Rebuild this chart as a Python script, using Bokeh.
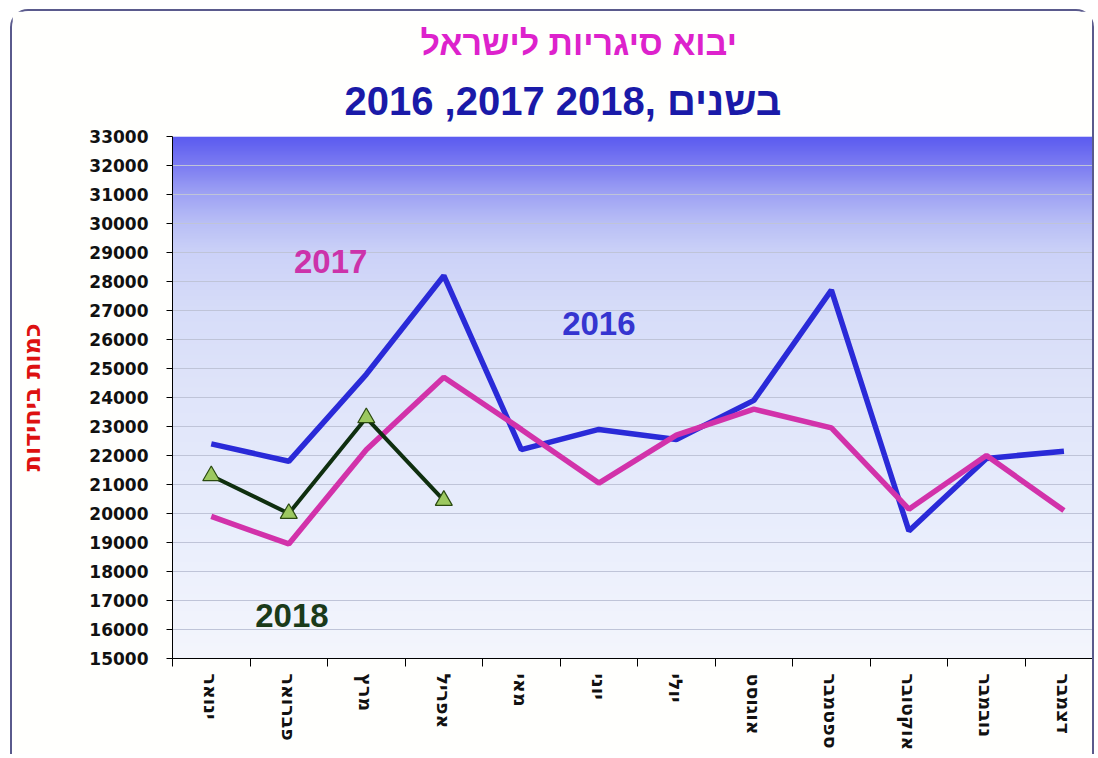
import numpy as np
from bokeh.plotting import figure
from bokeh.models import FixedTicker, Label, Range1d, Title
from bokeh.embed import file_html
from bokeh.resources import INLINE

# ---------------- data ----------------
months = ["ינואר", "פברואר", "מרץ", "אפריל", "מאי", "יוני",
          "יולי", "אוגוסט", "ספטמבר", "אוקטובר", "נובמבר", "דצמבר"]
y2016 = [22400, 21800, 24800, 28200, 22200, 22900, 22550, 23900, 27700, 19400, 21900, 22150]
y2017 = [19900, 18950, 22200, 24700, 22900, 21050, 22700, 23600, 22950, 20150, 22000, 20100]
y2018 = [21300, 20000, 23300, 20450]
y_ticks = list(range(15000, 33001, 1000))

title1 = "יבוא סיגריות לישראל"
title2 = "2016 ,2017 2018, בשנים"
y_title = "כמות ביחידות"

# ---------------- figure ----------------
x_pos = [i + 0.5 for i in range(len(months))]

p = figure(width=1084, height=745, output_backend="svg", toolbar_location=None,
           x_range=Range1d(0, 11.92), y_range=Range1d(15000, 33000),
           min_border_left=160, min_border_top=125, min_border_bottom=98,
           min_border_right=0)
p.title = None
p.margin = (9, 0, 0, 10)
p.background_fill_color = "#f4f6fd"
p.border_fill_color = "#fffffd"
p.outline_line_color = None
p.styles = {"border-left": "2px solid #5a5a8c", "border-top": "2px solid #5a5a8c",
            "border-right": "2px solid #5a5a8c",
            "border-top-left-radius": "18px", "border-top-right-radius": "18px"}

# gradient background (smooth image)
stops_v = [15000, 20000, 24000, 27000, 29000, 30000, 31000, 32000, 33000]
stops_c = [(244, 246, 253), (232, 237, 252), (224, 229, 250), (215, 221, 249),
           (204, 210, 248), (186, 192, 246), (160, 164, 244), (125, 125, 242), (92, 92, 240)]
nrows = 540
vals = np.linspace(15000, 33000, nrows)
img = np.zeros((nrows, 1), dtype=np.uint32)
view = img.view(dtype=np.uint8).reshape((nrows, 1, 4))
for k in range(3):
    view[:, 0, k] = np.interp(vals, stops_v, [c[k] for c in stops_c]).astype(np.uint8)
view[:, 0, 3] = 255
p.image_rgba(image=[img], x=0, y=15000, dw=12, dh=18000, level="image")

# grid
p.xgrid.grid_line_color = None
p.ygrid.ticker = FixedTicker(ticks=y_ticks)
p.ygrid.grid_line_color = "#bfc4d8"
p.ygrid.grid_line_width = 1

# axes
xa = p.xaxis[0]
xa.ticker = FixedTicker(ticks=x_pos, minor_ticks=list(range(0, 13)))
xa.major_label_overrides = {x: m for x, m in zip(x_pos, months)}
xa.major_tick_out = 0
xa.major_tick_in = 0
xa.minor_tick_out = 8
xa.minor_tick_in = 0
xa.minor_tick_line_color = "black"
xa.axis_line_color = "black"
xa.major_label_orientation = -np.pi / 2
xa.major_label_standoff = 7
xa.major_label_text_font = "DejaVu Sans"
xa.major_label_text_font_style = "bold"
xa.major_label_text_font_size = "19px"
xa.major_label_text_color = "#111111"

ya = p.yaxis[0]
ya.ticker = FixedTicker(ticks=y_ticks)
ya.minor_tick_line_color = None
ya.major_tick_out = 6
ya.major_tick_in = 0
ya.major_tick_line_color = "black"
ya.axis_line_color = "black"
ya.major_label_standoff = 18
ya.major_label_text_font = "DejaVu Sans"
ya.major_label_text_font_style = "bold"
ya.major_label_text_font_size = "17px"
ya.major_label_text_color = "#111111"
ya.axis_label = y_title
ya.axis_label_text_font = "DejaVu Sans"
ya.axis_label_text_font_style = "bold"
ya.axis_label_text_font_size = "24px"
ya.axis_label_text_color = "#dd1111"
ya.axis_label_standoff = 40

# series
p.line(x_pos, y2016, line_color="#2a2ad8", line_width=5.5)
p.line(x_pos, y2017, line_color="#d232aa", line_width=5.5)
x18 = x_pos[:len(y2018)]
p.line(x18, y2018, line_color="#0f2f0f", line_width=4)
p.scatter(x18, y2018, marker="triangle", size=17, fill_color="#9cc860",
          line_color="#2a4a10", line_width=1.2)

# titles (first added sits closest to the plot)
p.add_layout(Title(text=title2, text_color="#1a1aa8", text_font="Liberation Sans",
                   text_font_style="bold", text_font_size="40px", align="left",
                   offset=172, standoff=28), "above")
p.add_layout(Title(text=title1, text_color="#dd22cc", text_font="Liberation Sans",
                   text_font_style="bold", text_font_size="34px", align="left",
                   offset=248, standoff=2), "above")

# annotations inside the plot
def lab(x, y, t, color, size, font="Liberation Sans"):
    p.add_layout(Label(x=x, y=y, text=t, text_color=color, text_font=font,
                       text_font_style="bold", text_font_size=size,
                       text_align="center", text_baseline="middle"))

lab(2.04, 28700, "2017", "#cc33aa", "33px")
lab(5.50, 26550, "2016", "#3535d0", "33px")
lab(1.54, 16480, "2018", "#1a3a1a", "33px")

open("out.html", "w").write(file_html(p, INLINE))
